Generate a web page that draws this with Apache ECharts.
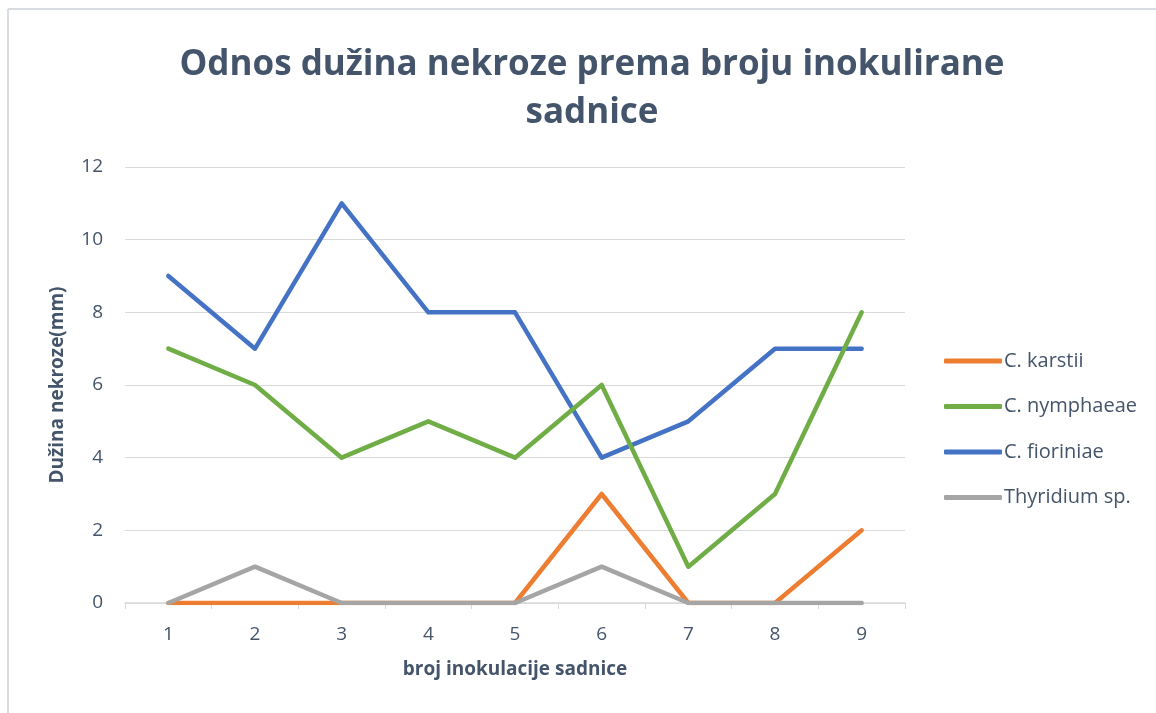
<!DOCTYPE html>
<html>
<head>
<meta charset="utf-8">
<script src="https://cdn.jsdelivr.net/npm/echarts@6/dist/echarts.min.js"></script>
<style>
html,body{margin:0;padding:0;background:#fff;}
#chart{width:1156px;height:713px;}
</style>
</head>
<body>
<div id="chart"></div>
<script>
const categories = ['1','2','3','4','5','6','7','8','9'];
const karstii = [0,0,0,0,0,3,0,0,2];
const nymphaeae = [7,6,4,5,4,6,1,3,8];
const fioriniae = [9,7,11,8,8,4,5,7,7];
const thyridium = [0,1,0,0,0,1,0,0,0];
const seriesNames = ['C. karstii','C. nymphaeae','C. fioriniae','Thyridium sp.'];
const titleText = 'Odnos dužina nekroze prema broju inokulirane\nsadnice';
const yName = 'Dužina nekroze(mm)';
const xName = 'broj inokulacije sadnice';

const FONT = '"Open Sans", "Noto Sans", sans-serif';
const TXT = '#44546A';
const chart = echarts.init(document.getElementById('chart'), null, {renderer:'canvas'});
function mk(name, data, color, z){
  return {name, type:'line', data, symbol:'none', z,
    lineStyle:{color, width:4.5, cap:'round', join:'round'}, itemStyle:{color}};
}
chart.setOption({
  animation:false,
  backgroundColor:'#fff',
  title:{text:titleText, left:587, top:36, textAlign:'center',
    textStyle:{fontFamily:FONT, fontWeight:'bold', fontSize:35, color:TXT, lineHeight:48}},
  graphic:[
    {type:'line', shape:{x1:8,y1:9,x2:8,y2:713}, style:{stroke:'#D9DDE3', lineWidth:2}},
    {type:'line', shape:{x1:8,y1:9,x2:1156,y2:9}, style:{stroke:'#D9DDE3', lineWidth:2}}
  ],
  grid:{left:125, right:251, top:167, bottom:110},
  legend:{orient:'vertical', left:939, top:346, itemWidth:58, itemHeight:5, itemGap:25.5,
    icon:'roundRect', data:seriesNames,
    textStyle:{fontFamily:FONT, fontSize:20, color:TXT, padding:[0,0,0,-3]}},
  xAxis:{type:'category', data:categories, boundaryGap:true,
    name:xName, nameLocation:'middle', nameGap:57,
    nameTextStyle:{fontFamily:FONT, fontWeight:'bold', fontSize:19, color:TXT},
    axisLine:{lineStyle:{color:'#D9D9D9', width:1.5}},
    axisTick:{show:true, alignWithLabel:false, length:6, lineStyle:{color:'#D9D9D9'}},
    axisLabel:{fontFamily:FONT, fontSize:19, color:TXT, margin:22}},
  yAxis:{type:'value', min:0, max:12, interval:2,
    name:yName, nameLocation:'middle', nameGap:58, nameRotate:90,
    nameTextStyle:{fontFamily:FONT, fontWeight:'bold', fontSize:19, color:TXT},
    axisLine:{show:false}, axisTick:{show:false},
    splitLine:{lineStyle:{color:'#D9D9D9', width:1.2}},
    axisLabel:{fontFamily:FONT, fontSize:19, color:TXT, margin:22}},
  series:[
    mk(seriesNames[0], karstii, '#ED7D31', 2),
    mk(seriesNames[1], nymphaeae, '#70AD47', 4),
    mk(seriesNames[2], fioriniae, '#4472C4', 3),
    mk(seriesNames[3], thyridium, '#A5A5A5', 5)
  ]
});
</script>
</body>
</html>
